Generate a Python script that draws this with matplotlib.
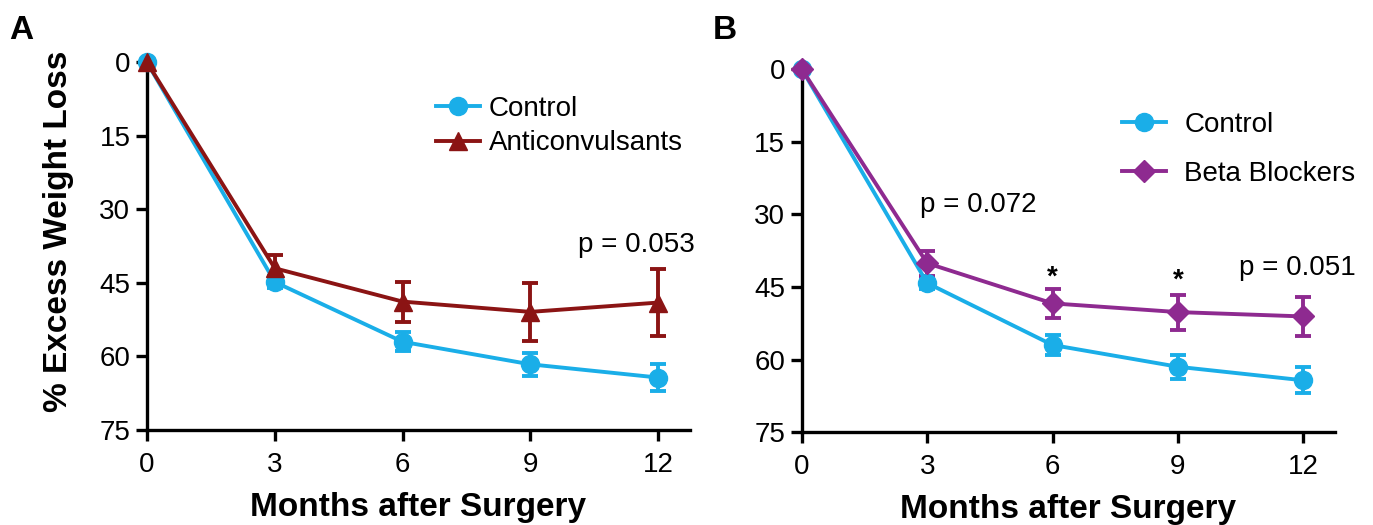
import matplotlib.pyplot as plt

plt.rcParams['font.family'] = ['Liberation Sans', 'DejaVu Sans']

# Data
months = [0, 3, 6, 9, 12]

ctrl_a = [0, 44.8, 57.0, 61.6, 64.3]
ctrl_a_err = [0, 1.2, 1.9, 2.4, 2.7]
anti = [0, 42.0, 48.8, 50.9, 49.0]
anti_err = [0, 2.8, 4.1, 5.9, 6.8]

ctrl_b = [0, 44.2, 57.0, 61.5, 64.3]
ctrl_b_err = [0, 1.2, 2.0, 2.5, 2.7]
beta = [0, 40.1, 48.4, 50.2, 51.1]
beta_err = [0, 2.6, 3.0, 3.6, 4.1]

yticks = [0, 15, 30, 45, 60, 75]

cyan = '#1aaee8'
red = '#8b1414'
purple = '#8e2a90'

fig = plt.figure(figsize=(13.73, 5.25), dpi=100)
axA = fig.add_axes([0.1071, 0.181, 0.3955, 0.714])
axB = fig.add_axes([0.584, 0.177, 0.388, 0.705])


def style(ax):
    ax.set_xlim(0, 12.75)
    ax.set_ylim(75, -1.5)
    ax.set_xticks(months)
    ax.set_yticks(yticks)
    for s in ['top', 'right']:
        ax.spines[s].set_visible(False)
    for s in ['left', 'bottom']:
        ax.spines[s].set_linewidth(2.4)
    ax.tick_params(width=2.4, length=8, labelsize=20, direction='out', pad=4)
    ax.tick_params(axis='x', pad=8)
    ax.set_xlabel('Months after Surgery', fontsize=24, fontweight='bold', labelpad=10)


def series(ax, y, err, color, marker, ms, label):
    ax.errorbar(months, y, yerr=err, color=color, fmt='none',
                elinewidth=2.8, capsize=6, capthick=2.8, clip_on=False, zorder=3)
    ax.plot(months, y, color=color, marker=marker, markersize=ms,
            linewidth=2.8, label=label, clip_on=False, zorder=4)


series(axA, ctrl_a, ctrl_a_err, cyan, 'o', 13, 'Control')
series(axA, anti, anti_err, red, '^', 13, 'Anticonvulsants')
style(axA)
axA.set_ylabel('% Excess Weight Loss', fontsize=24, fontweight='bold')
axA.yaxis.set_label_coords(-0.134, 0.53)
axA.legend(loc='upper left', bbox_to_anchor=(422 / 1373, 1 - 82 / 525),
           bbox_transform=fig.transFigure, frameon=False, borderpad=0,
           fontsize=20, handlelength=1.6, handletextpad=0.3, labelspacing=0.3)
axA.text(10.12, 37.3, 'p = 0.053', fontsize=20, va='center')

series(axB, ctrl_b, ctrl_b_err, cyan, 'o', 13, 'Control')
series(axB, beta, beta_err, purple, 'D', 11, 'Beta Blockers')
style(axB)
axB.legend(loc='upper left', bbox_to_anchor=(1108 / 1373, 1 - 98 / 525),
           bbox_transform=fig.transFigure, frameon=False, borderpad=0,
           fontsize=20, handlelength=1.6, handletextpad=0.65, labelspacing=0.82)
axB.text(2.82, 28, 'p = 0.072', fontsize=20, va='center')
axB.text(10.47, 41, 'p = 0.051', fontsize=20, va='center')
axB.text(6, 44.5, '*', fontsize=20, fontweight='bold', ha='center')
axB.text(9, 45.2, '*', fontsize=20, fontweight='bold', ha='center')

fig.text(0.007, 0.925, 'A', fontsize=24, fontweight='bold')
fig.text(0.519, 0.925, 'B', fontsize=24, fontweight='bold')

fig.savefig('out.png', dpi=100)
